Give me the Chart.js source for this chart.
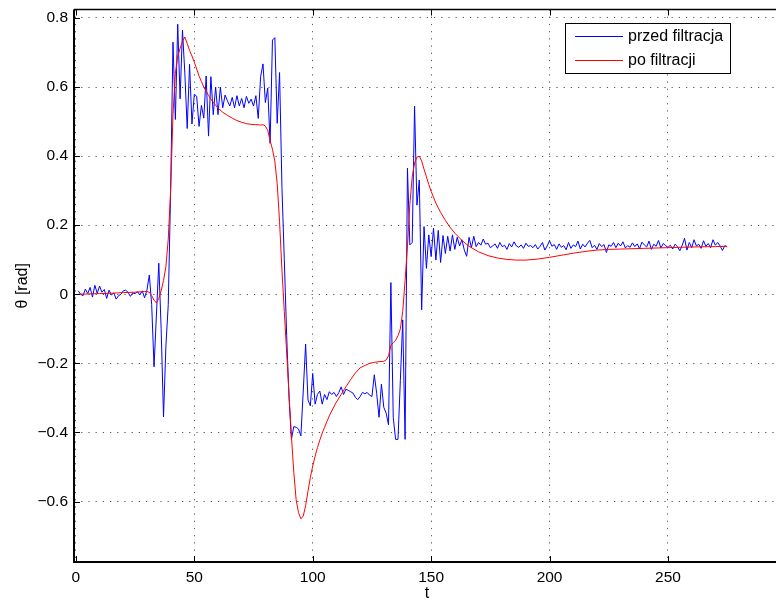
<!DOCTYPE html>
<html>
<head>
<meta charset="utf-8">
<script src="https://cdn.jsdelivr.net/npm/chart.js@4.4.0/dist/chart.umd.min.js"></script>
<style>
  html, body { margin: 0; padding: 0; background: #fff; overflow: hidden; }
  #wrap { position: relative; width: 782px; height: 601px; }
</style>
</head>
<body>
<div id="wrap"><canvas id="c"></canvas></div>
<script>
// sygnal przed filtracja, probki t = 1..275
const przed = [
  0.010, 0.000, -0.004, 0.015, 0.002, 0.020, -0.008, 0.026, 0.003, 0.024,
  0.006, 0.014, -0.012, 0.012, -0.002, 0.004, -0.014, -0.004, 0.000, 0.010,
  0.012, 0.006, -0.006, 0.004, 0.002, 0.008, -0.002, 0.010, -0.010, 0.012,
  0.056, -0.030, -0.210, -0.060, 0.090, -0.100, -0.355, -0.150, -0.030, 0.300,
  0.730, 0.506, 0.782, 0.566, 0.765, 0.640, 0.480, 0.666, 0.493, 0.579,
  0.573, 0.486, 0.547, 0.510, 0.632, 0.458, 0.630, 0.520, 0.600, 0.520,
  0.600, 0.540, 0.577, 0.560, 0.545, 0.570, 0.540, 0.575, 0.545, 0.567,
  0.540, 0.573, 0.553, 0.565, 0.545, 0.575, 0.509, 0.630, 0.667, 0.555,
  0.597, 0.437, 0.736, 0.743, 0.495, 0.642, 0.310, 0.100, -0.120, -0.300,
  -0.420, -0.383, -0.385, -0.390, -0.410, -0.280, -0.144, -0.306, -0.323, -0.229,
  -0.318, -0.290, -0.280, -0.318, -0.290, -0.305, -0.282, -0.290, -0.284, -0.296,
  -0.285, -0.268, -0.290, -0.275, -0.278, -0.282, -0.286, -0.298, -0.305, -0.296,
  -0.284, -0.288, -0.284, -0.292, -0.296, -0.233, -0.287, -0.356, -0.260, -0.327,
  -0.344, -0.378, 0.034, -0.357, -0.420, -0.420, -0.250, -0.074, -0.420, 0.365,
  0.143, 0.150, 0.545, 0.258, 0.331, -0.045, 0.196, 0.075, 0.172, 0.109,
  0.191, 0.099, 0.185, 0.092, 0.170, 0.118, 0.168, 0.125, 0.172, 0.130,
  0.165, 0.140, 0.158, 0.128, 0.110, 0.165, 0.135, 0.168, 0.138, 0.150,
  0.142, 0.160, 0.145, 0.148, 0.135, 0.140, 0.146, 0.133, 0.150, 0.138,
  0.142, 0.130, 0.147, 0.137, 0.152, 0.140, 0.136, 0.143, 0.133, 0.148,
  0.139, 0.141, 0.135, 0.144, 0.131, 0.139, 0.150, 0.128, 0.140, 0.155,
  0.139, 0.144, 0.130, 0.146, 0.136, 0.141, 0.129, 0.150, 0.133, 0.143,
  0.138, 0.154, 0.131, 0.145, 0.137, 0.148, 0.156, 0.135, 0.142, 0.130,
  0.147, 0.138, 0.144, 0.121, 0.143, 0.139, 0.150, 0.135, 0.148, 0.140,
  0.152, 0.134, 0.141, 0.136, 0.149, 0.138, 0.146, 0.132, 0.151, 0.143,
  0.137, 0.154, 0.130, 0.145, 0.139, 0.156, 0.134, 0.147, 0.141, 0.136,
  0.142, 0.131, 0.145, 0.138, 0.126, 0.142, 0.162, 0.128, 0.150, 0.135,
  0.158, 0.140, 0.145, 0.133, 0.155, 0.139, 0.147, 0.135, 0.158, 0.142,
  0.150, 0.140, 0.127, 0.141, 0.137
];

// po filtracji - odczyty w wybranych chwilach t
const poT = [
  1, 5, 10, 15, 20, 25, 29, 30, 31, 32, 33, 34, 35, 36, 37, 38, 39, 40,
  41, 42, 43, 44, 45, 46, 47, 48, 49, 50, 51, 52, 53, 54, 55, 56, 57, 58, 59, 60,
  62, 64, 66, 68, 70, 72, 74, 76, 78, 79, 80, 81, 82, 83, 84, 85, 86, 87, 88, 89, 90,
  91, 92, 93, 94, 95, 96, 97, 98, 99, 100, 101, 102, 103, 104, 105, 106, 107, 108,
  110, 112, 114, 116, 118, 120, 122, 124, 126, 128, 130, 131, 132, 133, 134, 135,
  136, 137, 138, 139, 140, 141, 142, 143, 144, 145, 146, 147, 148, 149, 150,
  152, 154, 156, 158, 160, 163, 166, 170, 174, 178, 182, 186, 190, 195, 200,
  205, 210, 215, 220, 225, 230, 240, 250, 260, 270, 275
];
const poV = [
  0.000, 0.001, 0.002, 0.003, 0.005, 0.006, 0.008, 0.008, 0.006, -0.004, -0.017, -0.025, -0.012, 0.010, 0.040, 0.080, 0.160, 0.300,
  0.520, 0.640, 0.690, 0.712, 0.732, 0.745, 0.726, 0.706, 0.690, 0.672, 0.652, 0.632, 0.616, 0.600, 0.588, 0.576, 0.565, 0.556, 0.547, 0.539,
  0.527, 0.518, 0.510, 0.503, 0.498, 0.494, 0.492, 0.491, 0.490, 0.491, 0.487, 0.475, 0.445, 0.420, 0.385, 0.320, 0.210, 0.070, -0.050, -0.170, -0.290,
  -0.410, -0.515, -0.595, -0.632, -0.650, -0.642, -0.612, -0.570, -0.530, -0.497, -0.469, -0.444, -0.422, -0.402, -0.385, -0.368, -0.352, -0.338,
  -0.312, -0.290, -0.268, -0.247, -0.228, -0.213, -0.206, -0.200, -0.197, -0.195, -0.194, -0.190, -0.178, -0.148, -0.140, -0.133,
  -0.120, -0.100, -0.050, 0.040, 0.140, 0.260, 0.340, 0.380, 0.397, 0.400, 0.386, 0.362, 0.340, 0.318, 0.298,
  0.264, 0.237, 0.214, 0.194, 0.177, 0.156, 0.139, 0.123, 0.112, 0.105, 0.101, 0.099, 0.099, 0.102, 0.107,
  0.113, 0.119, 0.124, 0.128, 0.130, 0.131, 0.133, 0.135, 0.137, 0.138, 0.139
];

const xTicks = [0, 50, 100, 150, 200, 250];
const yTicks = [-0.6, -0.4, -0.2, 0, 0.2, 0.4, 0.6, 0.8];
const nazwy = ['przed filtracja', 'po filtracji'];
const kolory = ['#0000ff', '#ff0000'];

const FONT = '"Liberation Sans", Arial, Helvetica, sans-serif';
Chart.defaults.font.family = FONT;
Chart.defaults.color = '#000';

function fmtY(v) {
  if (Math.abs(v) < 1e-9) return '0';
  return (v < 0 ? '\u2212' : '') + Math.abs(v).toFixed(1);
}

// ramka osi, znaczniki do srodka i legenda jak w matlabie
const ramka = {
  id: 'ramka',
  afterDraw(chart) {
    const { ctx, chartArea: a, scales: { x, y } } = chart;
    ctx.save();
    ctx.strokeStyle = '#000';
    ctx.lineWidth = 2;
    ctx.beginPath();
    ctx.moveTo(a.left, a.top);
    ctx.lineTo(a.left, a.bottom);
    ctx.lineTo(a.right, a.bottom);
    ctx.stroke();
    ctx.lineWidth = 1.3;
    ctx.beginPath();
    ctx.moveTo(a.left, a.top);
    ctx.lineTo(a.right, a.top);
    ctx.stroke();

    ctx.lineWidth = 1;
    ctx.beginPath();
    x.ticks.forEach(t => {
      const p = Math.round(x.getPixelForValue(t.value)) + 0.5;
      ctx.moveTo(p, a.bottom); ctx.lineTo(p, a.bottom - 6);
      ctx.moveTo(p, a.top); ctx.lineTo(p, a.top + 6);
    });
    y.ticks.forEach(t => {
      const p = Math.round(y.getPixelForValue(t.value)) + 0.5;
      ctx.moveTo(a.left, p); ctx.lineTo(a.left + 6, p);
    });
    ctx.stroke();

    // legenda
    const lx = 565.5, ly = 23.5, lw = 165, lh = 50;
    ctx.fillStyle = '#fff';
    ctx.fillRect(lx, ly, lw, lh);
    ctx.strokeStyle = '#000';
    ctx.lineWidth = 1;
    ctx.strokeRect(lx, ly, lw, lh);
    ctx.font = '16px ' + FONT;
    ctx.textBaseline = 'middle';
    ctx.textAlign = 'left';
    chart.data.datasets.forEach((ds, i) => {
      const yy = 36.5 + i * 24;
      ctx.strokeStyle = ds.borderColor;
      ctx.beginPath();
      ctx.moveTo(575, yy); ctx.lineTo(623, yy);
      ctx.stroke();
      ctx.fillStyle = '#000';
      ctx.fillText(ds.label, 628, yy);
    });
    ctx.restore();
  }
};

new Chart(document.getElementById('c'), {
  type: 'line',
  data: {
    datasets: [
      {
        label: nazwy[0],
        data: przed.map((v, i) => ({ x: i + 1, y: v })),
        borderColor: kolory[0],
        borderWidth: 1,
        borderJoinStyle: 'round',
        pointRadius: 0,
        tension: 0,
        order: 2
      },
      {
        label: nazwy[1],
        data: poT.map((t, i) => ({ x: t, y: poV[i] })),
        borderColor: kolory[1],
        borderWidth: 1,
        borderJoinStyle: 'round',
        pointRadius: 0,
        tension: 0,
        order: 1
      }
    ]
  },
  options: {
    animation: false,
    responsive: true,
    maintainAspectRatio: false,
    devicePixelRatio: 1,
    events: [],
    layout: { padding: { top: 9.5, right: 2, left: 0, bottom: 0 } },
    plugins: { legend: { display: false }, tooltip: { enabled: false } },
    scales: {
      x: {
        type: 'linear',
        min: -0.8,
        max: 297.3,
        afterBuildTicks: s => { s.ticks = xTicks.map(v => ({ value: v })); },
        afterFit: s => { s.height = 39; s.paddingLeft = 0; s.paddingRight = 0; },
        ticks: { padding: 6, font: { size: 15.5 }, color: '#000', maxRotation: 0, autoSkip: false },
        grid: { color: '#555', lineWidth: 1, drawTicks: false },
        border: { display: false, dash: [1.2, 6] },
        title: { display: true, text: 't', font: { size: 16, lineHeight: 0.875 }, padding: 0, color: '#000' }
      },
      y: {
        min: -0.775,
        max: 0.8245,
        afterBuildTicks: s => { s.ticks = yTicks.map(v => ({ value: v })); },
        afterFit: s => { s.width = 74; s.paddingTop = 0; s.paddingBottom = 0; },
        ticks: { padding: 6, font: { size: 15.5 }, color: '#000', callback: v => fmtY(v) },
        grid: { color: '#555', lineWidth: 1, drawTicks: false },
        border: { display: false, dash: [1.2, 6] },
        title: { display: true, text: '\u03b8 [rad]', font: { size: 16, lineHeight: 0.875 }, padding: { top: 15.5, bottom: 0 }, color: '#000' }
      }
    }
  },
  plugins: [ramka]
});
</script>
</body>
</html>
